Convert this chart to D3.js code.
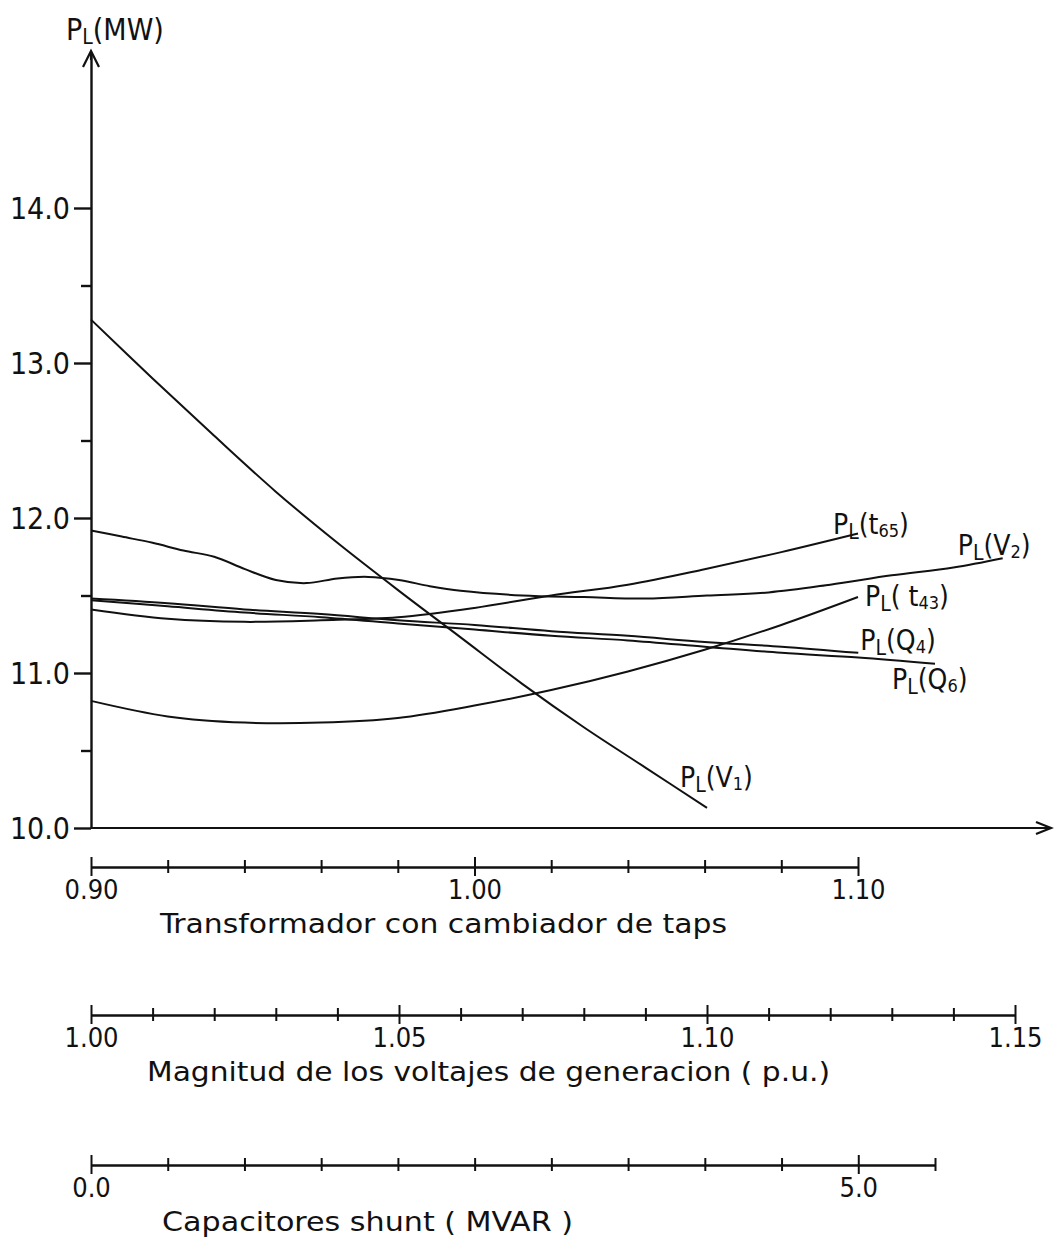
<!DOCTYPE html>
<html>
<head>
<meta charset="utf-8">
<script src="https://cdn.jsdelivr.net/npm/d3@7"></script>
<style>
  body { margin: 0; background: #fff; }
  svg { display: block; background: #fff; font-family: "DejaVu Sans Condensed", "DejaVu Sans", sans-serif; fill: #111; }
  .curve { fill: none; stroke: #111; stroke-width: 2; }
  .frame { fill: none; stroke: #111; stroke-width: 2.2; }
  .scaleAxis .domain { stroke: #111; stroke-width: 2.4; }
  .scaleAxis .tick line { stroke: #111; stroke-width: 2; }
  .lossAxis .tick line { stroke: #111; stroke-width: 2.4; }
</style>
</head>
<body>
<svg id="chart"></svg>
<script>
// power losses P_L (MW) against each control variable
var lossTicks = [10, 11, 12, 13, 14];
var lossMinorTicks = [10.5, 11.5, 12.5, 13.5];

// transformer taps
var tapSteps = [0.90, 0.92, 0.94, 0.96, 0.98, 1.00, 1.02, 1.04, 1.06, 1.08, 1.10];
var tapLabels = [0.90, 1.00, 1.10];
var lossT65 = [11.41, 11.35, 11.33, 11.34, 11.36, 11.42, 11.50, 11.57, 11.67, 11.78, 11.90];
var lossT43 = [10.82, 10.72, 10.68, 10.68, 10.71, 10.79, 10.89, 11.01, 11.15, 11.31, 11.49];

// generator voltages (p.u.)
var voltSteps = [1.00, 1.01, 1.02, 1.03, 1.04, 1.05, 1.06, 1.07, 1.08, 1.09, 1.10, 1.11, 1.12, 1.13, 1.14, 1.15];
var voltLabels = [1.00, 1.05, 1.10, 1.15];
var v1Volts = [1.00, 1.01, 1.02, 1.03, 1.04, 1.05, 1.06, 1.07, 1.08, 1.09, 1.10];
var lossV1 = [13.28, 12.90, 12.53, 12.17, 11.84, 11.53, 11.23, 10.93, 10.65, 10.39, 10.13];
var v2Volts = [1.000, 1.005, 1.010, 1.015, 1.020, 1.025, 1.030, 1.035, 1.040, 1.045, 1.050, 1.055,
               1.060, 1.070, 1.080, 1.090, 1.100, 1.110, 1.120, 1.130, 1.140, 1.148];
var lossV2 = [11.92, 11.88, 11.84, 11.79, 11.75, 11.67, 11.60, 11.58, 11.61, 11.62, 11.60, 11.56,
              11.53, 11.50, 11.49, 11.48, 11.50, 11.52, 11.57, 11.63, 11.68, 11.74];

// shunt capacitors (MVAR)
var capSteps = [0, 0.5, 1.0, 1.5, 2.0, 2.5, 3.0, 3.5, 4.0, 4.5, 5.0, 5.5];
var capLabels = [0, 5.0];
var q4Caps = [0, 0.5, 1.0, 1.5, 2.0, 2.5, 3.0, 3.5, 4.0, 4.5, 5.0];
var lossQ4 = [11.48, 11.45, 11.41, 11.38, 11.34, 11.31, 11.27, 11.24, 11.20, 11.17, 11.13];
var q6Caps = [0, 0.5, 1.0, 1.5, 2.0, 2.5, 3.0, 3.5, 4.0, 4.5, 5.0, 5.5];
var lossQ6 = [11.47, 11.43, 11.39, 11.36, 11.32, 11.28, 11.24, 11.21, 11.17, 11.13, 11.10, 11.06];

var width = 1055;
var height = 1241;
var x0 = 91;

var svg = d3.select("#chart").attr("width", width).attr("height", height);

var yScale = d3.scaleLinear().domain([10, 15]).range([828, 53]);
var tapScale = d3.scaleLinear().domain([0.90, 1.10]).range([x0, 858]);
var voltScale = d3.scaleLinear().domain([1.00, 1.15]).range([x0, 1015]);
var capScale = d3.scaleLinear().domain([0, 5.5]).range([x0, 935]);

function same(a, b) { return Math.abs(a - b) < 1e-9; }

// vertical loss axis
var lossAxis = svg.append("g")
  .attr("class", "lossAxis")
  .attr("transform", "translate(" + x0 + ",0)")
  .call(d3.axisLeft(yScale)
    .tickValues(lossTicks.concat(lossMinorTicks))
    .tickSize(17)
    .tickSizeOuter(0)
    .tickPadding(4)
    .tickFormat(function(d) {
      return lossTicks.indexOf(d) >= 0 ? d3.format(".1f")(d) : "";
    }));
lossAxis.select(".domain").attr("stroke", "#111").attr("stroke-width", 2.4);
lossAxis.selectAll(".tick line")
  .attr("x2", function(d) { return lossTicks.indexOf(d) >= 0 ? -17 : -10; });
lossAxis.selectAll(".tick text")
  .attr("font-size", 30)
  .attr("font-family", "DejaVu Sans Condensed")
  .attr("fill", "#111")
  .attr("dy", "0.36em");

// arrow heads
svg.append("path").attr("class", "frame")
  .attr("d", "M" + (x0 - 8) + ",67 L" + x0 + ",51 L" + (x0 + 8) + ",67");
svg.append("line").attr("class", "frame")
  .attr("x1", x0).attr("x2", x0).attr("y1", 52).attr("y2", 60);

// horizontal base line
svg.append("line").attr("class", "frame")
  .attr("x1", x0).attr("x2", 1050)
  .attr("y1", yScale(10)).attr("y2", yScale(10));
svg.append("path").attr("class", "frame")
  .attr("d", "M1036," + (yScale(10) - 6) + " L1051," + yScale(10) + " L1036," + (yScale(10) + 6));

svg.append("text")
  .attr("x", 66).attr("y", 40)
  .attr("font-size", 30)
  .call(function(t) {
    t.append("tspan").text("P");
    t.append("tspan").attr("font-size", 21).attr("dy", 4).text("L");
    t.append("tspan").attr("dy", -4).text("(MW)");
  });

// the three variable scales under the plot
function drawScale(scale, steps, labels, fmt, yPos, title, titleX, titleLen) {
  var g = svg.append("g")
    .attr("class", "scaleAxis")
    .attr("transform", "translate(0," + yPos + ")")
    .call(d3.axisBottom(scale)
      .tickValues(steps)
      .tickSizeOuter(0)
      .tickFormat(function(d) {
        return labels.some(function(l) { return same(l, d); }) ? fmt(d) : "";
      }));

  g.selectAll(".tick line")
    .attr("y1", function(d) { return labels.some(function(l) { return same(l, d); }) ? -10 : -7; })
    .attr("y2", function(d) { return labels.some(function(l) { return same(l, d); }) ? 9 : 6; });
  g.selectAll(".tick text")
    .attr("y", 32)
    .attr("dy", 0)
    .attr("font-size", 27)
    .attr("font-family", "DejaVu Sans Condensed")
    .attr("fill", "#111");

  svg.append("text")
    .attr("x", titleX).attr("y", yPos + 66)
    .attr("font-size", 27)
    .attr("textLength", titleLen)
    .attr("lengthAdjust", "spacingAndGlyphs")
    .text(title);
}

drawScale(tapScale, tapSteps, tapLabels, d3.format(".2f"), 867,
  "Transformador con cambiador de taps", 160, 567);
drawScale(voltScale, voltSteps, voltLabels, d3.format(".2f"), 1015,
  "Magnitud de los voltajes de generacion  ( p.u.)", 147, 683);
drawScale(capScale, capSteps, capLabels, d3.format(".1f"), 1165,
  "Capacitores  shunt  ( MVAR )", 162, 411);

// curves
var series = [
  { name: "t", sub: "65", xs: tapSteps, ys: lossT65, scale: tapScale, dx: -25, dy: 0 },
  { name: "t", sub: "43", xs: tapSteps, ys: lossT43, scale: tapScale, dx: 7, dy: 9, gap: true },
  { name: "V", sub: "1", xs: v1Volts, ys: lossV1, scale: voltScale, dx: -27, dy: -21 },
  { name: "V", sub: "2", xs: v2Volts, ys: lossV2, scale: voltScale, dx: -45, dy: -3 },
  { name: "Q", sub: "4", xs: q4Caps, ys: lossQ4, scale: capScale, dx: 2, dy: -3 },
  { name: "Q", sub: "6", xs: q6Caps, ys: lossQ6, scale: capScale, dx: -43, dy: 25 }
];

var line = d3.line()
  .x(function(d) { return d.x; })
  .y(function(d) { return d.y; })
  .curve(d3.curveCatmullRom.alpha(0.5));

series.forEach(function(s) {
  var pts = s.xs.map(function(v, i) {
    return { x: s.scale(v), y: yScale(s.ys[i]) };
  });
  svg.append("path")
    .datum(pts)
    .attr("class", "curve")
    .attr("d", line);

  var end = pts[pts.length - 1];
  svg.append("text")
    .attr("x", end.x + s.dx)
    .attr("y", end.y + s.dy)
    .attr("font-size", 28)
    .call(function(t) {
      t.append("tspan").text("P");
      t.append("tspan").attr("font-size", 21).attr("dy", 5).text("L");
      t.append("tspan").attr("dy", -5).text(s.gap ? "( " + s.name : "(" + s.name);
      t.append("tspan").attr("font-size", 18).attr("dy", 3).text(s.sub);
      t.append("tspan").attr("dy", -3).text(")");
    });
});
</script>
</body>
</html>
